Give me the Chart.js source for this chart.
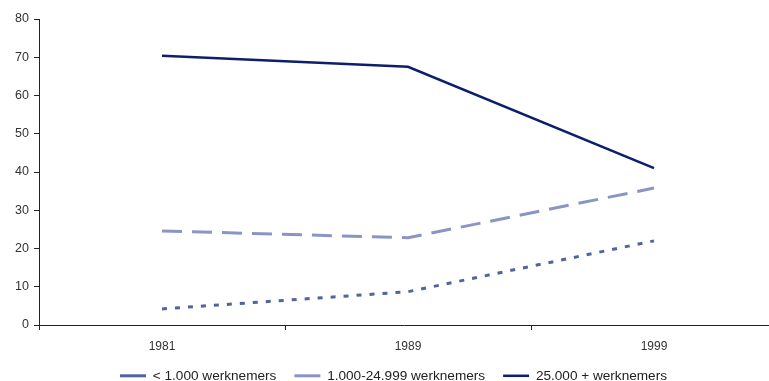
<!DOCTYPE html>
<html>
<head>
<meta charset="utf-8">
<script src="https://cdn.jsdelivr.net/npm/chart.js@4/dist/chart.umd.min.js"></script>
<style>
  html, body { margin: 0; padding: 0; background: #fff; }
  #wrap { width: 769px; height: 381px; }
</style>
</head>
<body>
<div id="wrap"><canvas id="chart" width="769" height="381"></canvas></div>
<script>
// data
const years = ['1981', '1989', '1999'];
const klein = [4.2, 8.7, 22.0];
const middel = [24.6, 22.8, 35.8];
const groot = [70.4, 67.5, 41.0];
const yTicks = [0, 10, 20, 30, 40, 50, 60, 70, 80];

const axisColor = '#222';
const fontFamily = 'Liberation Sans, Arial, sans-serif';
const plotOverhang = 8; // plot area runs a little past the right edge, as in the original

// legend: fixed height, and nudged a bit to the right like the original
const layoutTweak = {
  id: 'layoutTweak',
  beforeInit(chart) {
    const lg = chart.legend;
    const origFit = lg.fit;
    lg.fit = function () {
      origFit.call(this);
      this.height = 30;
    };
    const origDraw = lg.draw;
    lg.draw = function () {
      this.left += 9;
      this.right += 9;
      origDraw.call(this);
      this.left -= 9;
      this.right -= 9;
    };
  },
  afterLayout(chart) {
    const x = chart.scales.x;
    x.right += plotOverhang;
    x.width += plotOverhang;
    chart.chartArea.right += plotOverhang;
    chart.chartArea.width += plotOverhang;
    x.configure();
  },
};

new Chart(document.getElementById('chart'), {
  type: 'line',
  data: {
    labels: years,
    datasets: [
      { label: '< 1.000 werknemers', data: klein, borderColor: '#52649e', backgroundColor: '#52649e', borderWidth: 3, borderDash: [5, 8], pointRadius: 0, tension: 0 },
      { label: '1.000-24.999 werknemers', data: middel, borderColor: '#8b95c3', backgroundColor: '#8b95c3', borderWidth: 3, borderDash: [20, 10], pointRadius: 0, tension: 0 },
      { label: '25.000 + werknemers', data: groot, borderColor: '#0c1f6c', backgroundColor: '#0c1f6c', borderWidth: 2.5, pointRadius: 0, tension: 0 },
    ],
  },
  plugins: [layoutTweak],
  options: {
    responsive: false,
    animation: false,
    layout: { padding: { top: 19, right: 0, left: 0, bottom: 0 } },
    plugins: {
      tooltip: { enabled: false },
      legend: {
        position: 'bottom',
        labels: {
          usePointStyle: true,
          pointStyle: 'line',
          pointStyleWidth: 26,
          boxHeight: 3,
          padding: 18,
          color: '#222',
          font: { family: fontFamily, size: 13.6 },
        },
      },
    },
    scales: {
      x: {
        offset: true,
        grid: { offset: true, drawOnChartArea: false, drawTicks: true, tickLength: 5, color: axisColor },
        border: { color: axisColor, width: 1 },
        ticks: { color: '#333', font: { family: fontFamily, size: 12 }, padding: 9, maxRotation: 0 },
        afterFit: (s) => { s.height = 26; },
      },
      y: {
        min: 0,
        max: 80,
        afterBuildTicks: (s) => { s.ticks = yTicks.map((v) => ({ value: v })); },
        grid: { drawOnChartArea: false, tickLength: 5, color: axisColor },
        border: { color: axisColor, width: 1 },
        ticks: { color: '#333', font: { family: fontFamily, size: 12.5 }, padding: 5 },
        afterFit: (s) => { s.width = 39; },
      },
    },
  },
});
</script>
</body>
</html>
